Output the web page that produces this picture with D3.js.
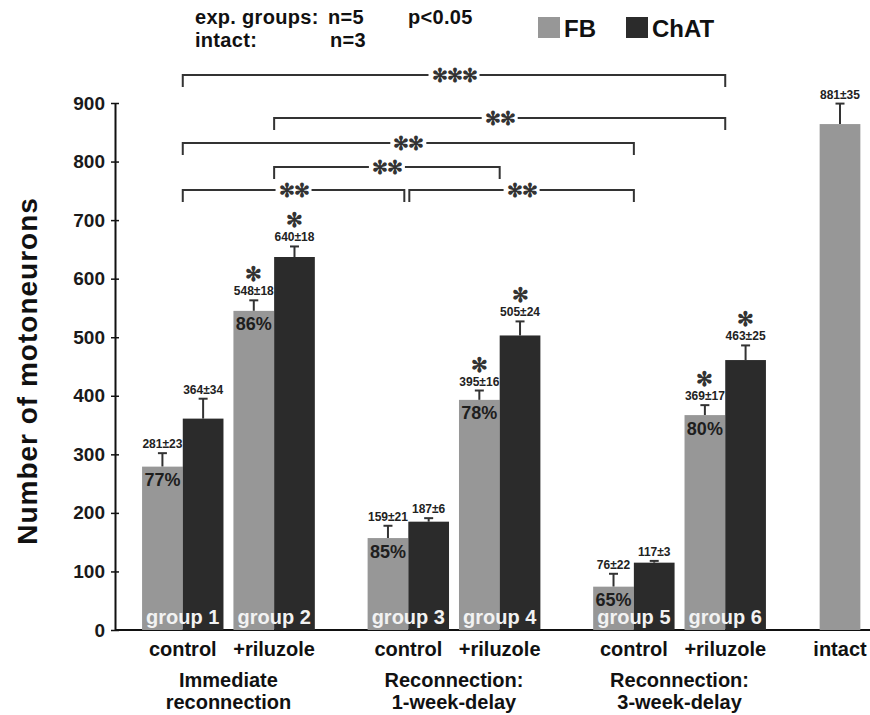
<!DOCTYPE html>
<html>
<head>
<meta charset="utf-8">
<script src="https://cdn.jsdelivr.net/npm/d3@7"></script>
<style>
    body { margin: 0; background: #fff; }
    svg text { font-family: "Liberation Sans", Arial, sans-serif; font-weight: bold; }
</style>
</head>
<body>
<div id="chart"></div>
<script>
// values
const conditions = ['Immediate reconnection', 'Reconnection: 1-week-delay', 'Reconnection: 3-week-delay'];
const conditionLines = [['Immediate', 'reconnection'], ['Reconnection:', '1-week-delay'], ['Reconnection:', '3-week-delay']];
const treatments = ['control', '+riluzole'];
const series = ['FB', 'ChAT'];
const groupNames = ['group 1', 'group 2', 'group 3', 'group 4', 'group 5', 'group 6'];

// bar heights as drawn, and the mean ± sem printed above them
const fbHeights = [279, 545, 157, 393, 74, 367];
const chatHeights = [361, 637, 185, 503, 115, 461];
const fbMeans = [281, 548, 159, 395, 76, 369];
const chatMeans = [364, 640, 187, 505, 117, 463];
const fbErr = [23, 18, 21, 16, 22, 17];
const chatErr = [34, 18, 6, 24, 3, 25];
const fbPercent = ['77%', '86%', '85%', '78%', '65%', '80%'];
const fbStar = [false, true, false, true, false, true];
const chatStar = [false, true, false, true, false, true];

const intactHeight = 864;
const intactMean = 881;
const intactErr = 35;

const yTicks = [0, 100, 200, 300, 400, 500, 600, 700, 800, 900];

// significance brackets between groups (index into groupNames)
const brackets = [
    {from: 0, to: 5, label: '***', row: 0},
    {from: 1, to: 5, label: '**', row: 1},
    {from: 0, to: 4, label: '**', row: 2},
    {from: 1, to: 3, label: '**', row: 3},
    {from: 0, to: 2, label: '**', row: 4},
    {from: 2, to: 4, label: '**', row: 4}
];

const colors = {FB: '#979797', ChAT: '#2b2b2b'};

class MotoneuronChart {
    constructor(containerId) {
        this.width = 870;
        this.height = 715;
        this.svg = d3.select(containerId).append('svg')
            .attr('width', this.width)
            .attr('height', this.height);
        this.createScales();
        this.drawAxes();
        this.drawBars();
        this.drawLabels();
        this.drawBrackets();
        this.drawHeader();
    }

    createScales() {
        this.y = d3.scaleLinear().domain([0, 900]).range([630, 103]);

        this.xCond = d3.scaleBand()
            .domain(conditions)
            .range([115, 793])
            .paddingInner(0.234)
            .paddingOuter(0.12);

        this.xTreat = d3.scaleBand()
            .domain(treatments)
            .range([0, this.xCond.bandwidth()])
            .paddingInner(0.109);

        this.xSeries = d3.scaleBand()
            .domain(series)
            .range([0, this.xTreat.bandwidth()]);

        this.xIntact = d3.scaleBand().domain(['intact']).range([793, 887]);
    }

    // left edge of a group's pair of bars
    groupX(i) {
        return this.xCond(conditions[Math.floor(i / 2)]) + this.xTreat(treatments[i % 2]);
    }

    groupCenter(i) {
        return this.groupX(i) + this.xTreat.bandwidth() / 2;
    }

    drawAxes() {
        const yAxis = this.svg.append('g')
            .attr('transform', 'translate(115,0)')
            .call(d3.axisLeft(this.y).tickValues(yTicks).tickSize(4).tickSizeOuter(0).tickPadding(6));
        yAxis.select('.domain').attr('stroke', '#111').attr('stroke-width', 2);
        yAxis.selectAll('.tick line').attr('x1', 4).attr('stroke', '#111').attr('stroke-width', 1.5);
        yAxis.selectAll('.tick text')
            .attr('font-size', 19)
            .attr('fill', '#1a1a1a');

        this.svg.append('line')
            .attr('x1', 115).attr('x2', this.width)
            .attr('y1', this.y(0)).attr('y2', this.y(0))
            .attr('stroke', '#111').attr('stroke-width', 2);

        this.svg.append('text')
            .attr('transform', 'translate(27,371) rotate(-90)')
            .attr('text-anchor', 'middle')
            .attr('dominant-baseline', 'central')
            .attr('font-size', 28)
            .attr('letter-spacing', 1)
            .attr('fill', '#111')
            .text('Number of motoneurons');
    }

    drawBars() {
        const bw = this.xSeries.bandwidth();
        const rows = [];
        groupNames.forEach((g, i) => {
            rows.push({key: 'FB', x: this.groupX(i) + this.xSeries('FB'), h: fbHeights[i], mean: fbMeans[i], err: fbErr[i], star: fbStar[i], pct: fbPercent[i]});
            rows.push({key: 'ChAT', x: this.groupX(i) + this.xSeries('ChAT'), h: chatHeights[i], mean: chatMeans[i], err: chatErr[i], star: chatStar[i]});
        });
        rows.push({key: 'FB', x: this.xIntact('intact') + this.xIntact.bandwidth() / 2 - bw / 2, h: intactHeight, mean: intactMean, err: intactErr, star: false});

        const bars = this.svg.append('g').selectAll('g.bar')
            .data(rows)
            .enter()
            .append('g')
            .attr('class', 'bar');

        // error bars first so the bar hides the lower half
        bars.append('line')
            .attr('x1', d => d.x + bw / 2).attr('x2', d => d.x + bw / 2)
            .attr('y1', d => this.y(d.h)).attr('y2', d => this.y(d.h + d.err))
            .attr('stroke', '#333').attr('stroke-width', 2);
        bars.append('line')
            .attr('x1', d => d.x + bw / 2 - 4.5).attr('x2', d => d.x + bw / 2 + 4.5)
            .attr('y1', d => this.y(d.h + d.err)).attr('y2', d => this.y(d.h + d.err))
            .attr('stroke', '#333').attr('stroke-width', 2);

        bars.append('rect')
            .attr('x', d => d.x)
            .attr('y', d => this.y(d.h))
            .attr('width', bw)
            .attr('height', d => this.y(0) - this.y(d.h))
            .attr('fill', d => colors[d.key]);

        bars.append('text')
            .attr('x', d => d.x + bw / 2)
            .attr('y', d => this.y(d.h + d.err) - 5)
            .attr('text-anchor', 'middle')
            .attr('font-size', 12)
            .attr('fill', '#222')
            .text(d => `${d.mean}±${d.err}`);

        bars.filter(d => d.star).append('text')
            .attr('x', d => d.x + bw / 2)
            .attr('y', d => this.y(d.h + d.err) - 19)
            .attr('text-anchor', 'middle')
            .attr('font-family', 'DejaVu Sans')
            .attr('font-weight', 'normal')
            .attr('font-size', 20)
            .attr('fill', '#333')
            .text('\u273B');

        bars.filter(d => d.pct).append('text')
            .attr('x', d => d.x + bw / 2)
            .attr('y', d => this.y(d.h) + 19.5)
            .attr('text-anchor', 'middle')
            .attr('font-size', 18)
            .attr('fill', '#1e1e1e')
            .text(d => d.pct);

        this.svg.append('g').selectAll('text')
            .data(groupNames)
            .enter()
            .append('text')
            .attr('x', (d, i) => this.groupCenter(i))
            .attr('y', this.y(0) - 6)
            .attr('text-anchor', 'middle')
            .attr('font-size', 20)
            .attr('fill', '#f2f2f2')
            .text(d => d);
    }

    drawLabels() {
        const g = this.svg.append('g').attr('fill', '#111');

        groupNames.forEach((name, i) => {
            g.append('text')
                .attr('x', this.groupCenter(i))
                .attr('y', 656)
                .attr('text-anchor', 'middle')
                .attr('font-size', 20)
                .text(treatments[i % 2]);
        });

        g.append('text')
            .attr('x', this.xIntact('intact') + this.xIntact.bandwidth() / 2)
            .attr('y', 656)
            .attr('text-anchor', 'middle')
            .attr('font-size', 20)
            .text('intact');

        conditions.forEach((c, i) => {
            const text = g.append('text')
                .attr('x', this.xCond(c) + this.xCond.bandwidth() / 2)
                .attr('y', 687)
                .attr('text-anchor', 'middle')
                .attr('font-size', 20);
            conditionLines[i].forEach((line, j) => {
                text.append('tspan')
                    .attr('x', this.xCond(c) + this.xCond.bandwidth() / 2)
                    .attr('dy', j === 0 ? 0 : 22)
                    .text(line);
            });
        });
    }

    drawBrackets() {
        const rowY = [75, 118, 143, 167, 190];
        const g = this.svg.append('g');

        brackets.forEach(b => {
            let x1 = this.groupCenter(b.from);
            let x2 = this.groupCenter(b.to);
            // two brackets meeting on the same row leave a small gap
            if (brackets.some(o => o !== b && o.row === b.row && o.from === b.to)) x2 -= 4;
            if (brackets.some(o => o !== b && o.row === b.row && o.to === b.from)) x1 += 1;
            const yy = rowY[b.row];
            const mid = (x1 + x2) / 2;

            const label = g.append('text')
                .attr('x', mid)
                .attr('y', yy)
                .attr('text-anchor', 'middle')
                .attr('dominant-baseline', 'central')
                .attr('font-family', 'DejaVu Sans')
                .attr('font-weight', 'normal')
                .attr('font-size', 19)
                .attr('letter-spacing', -1)
                .attr('fill', '#333')
                .text(b.label.replace(/\*/g, '\u273B'));
            const half = label.node().getComputedTextLength() / 2 + 3;

            g.append('path')
                .attr('d', `M${x1},${yy + 12}V${yy}H${mid - half}M${mid + half},${yy}H${x2}V${yy + 12}`)
                .attr('fill', 'none')
                .attr('stroke', '#333')
                .attr('stroke-width', 2);
        });
    }

    drawHeader() {
        const g = this.svg.append('g').attr('fill', '#111').attr('font-size', 20).attr('letter-spacing', 0.3);
        g.append('text').attr('x', 195).attr('y', 24).text('exp. groups:');
        g.append('text').attr('x', 328).attr('y', 24).text('n=5');
        g.append('text').attr('x', 408).attr('y', 24).text('p<0.05');
        g.append('text').attr('x', 195).attr('y', 47).text('intact:');
        g.append('text').attr('x', 330).attr('y', 47).text('n=3');

        // legend
        const legend = this.svg.append('g');
        const items = [{key: 'FB', x: 538}, {key: 'ChAT', x: 626}];
        items.forEach(it => {
            legend.append('rect')
                .attr('x', it.x).attr('y', 17)
                .attr('width', 22).attr('height', 21)
                .attr('fill', colors[it.key]);
            legend.append('text')
                .attr('x', it.x + 26).attr('y', 37)
                .attr('font-size', 24)
                .attr('fill', '#111')
                .text(it.key);
        });
    }
}

new MotoneuronChart('#chart');
</script>
</body>
</html>
